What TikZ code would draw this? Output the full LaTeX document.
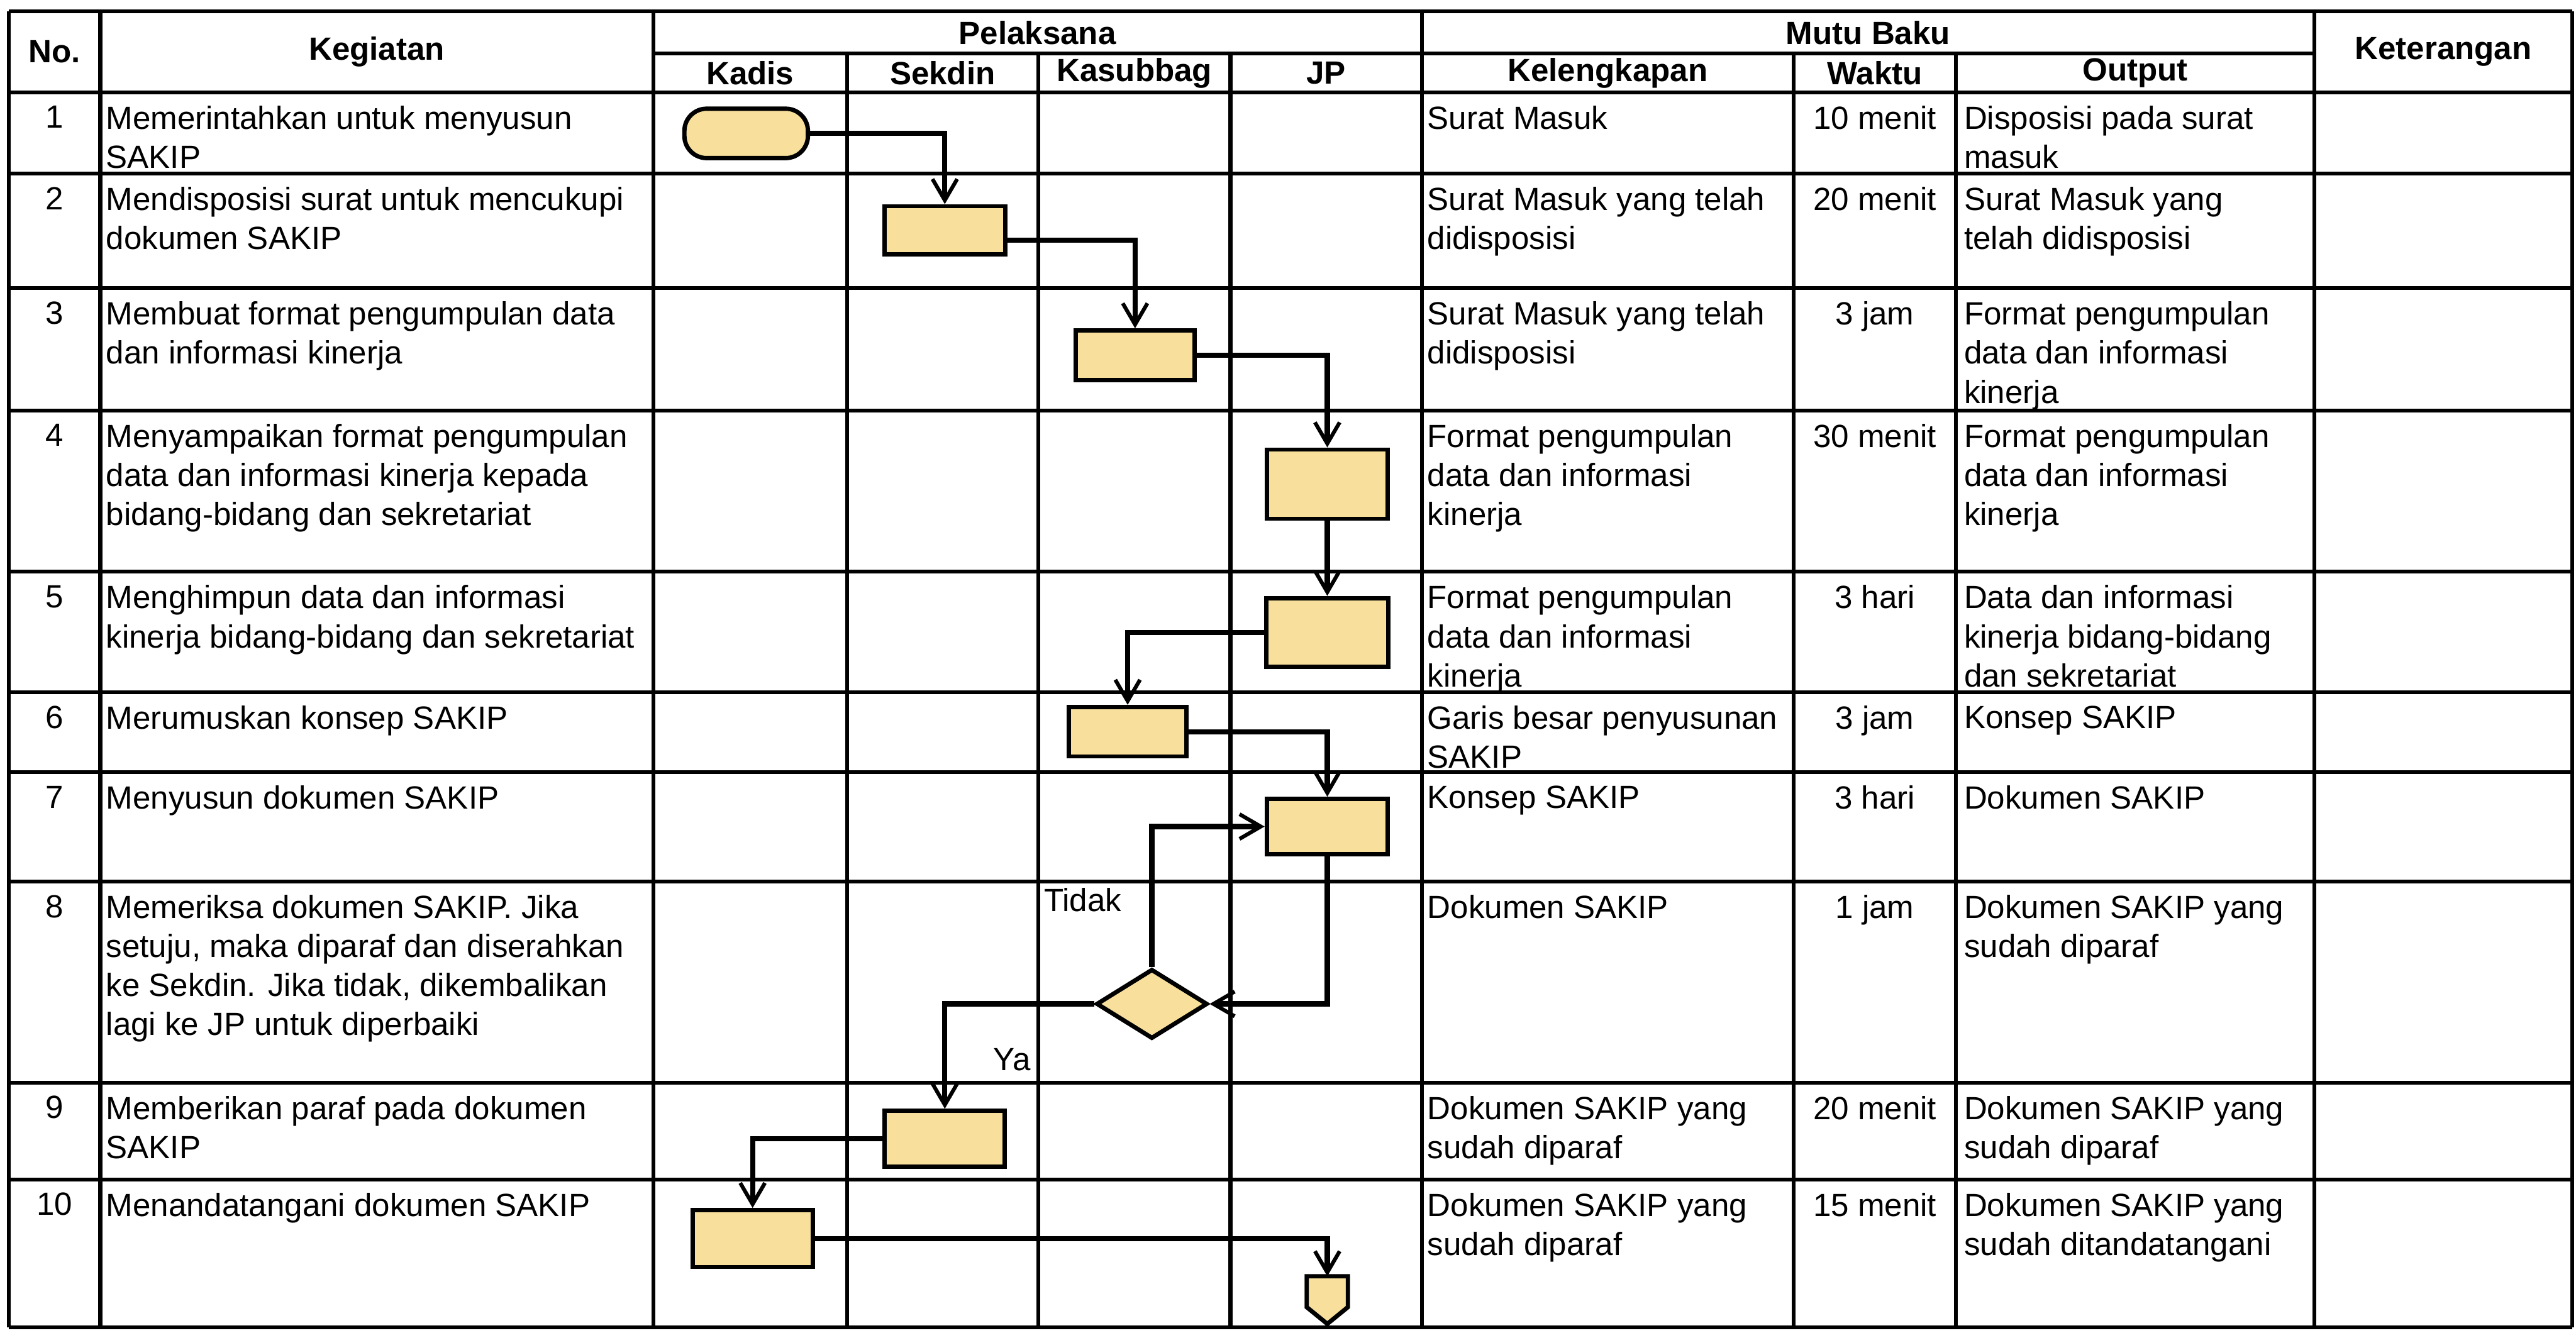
\documentclass[tikz,border=0pt]{standalone}
\usepackage{fontspec}
\setmainfont{Liberation Sans}
\usepackage{xcolor}
\usepackage{tikz}
\usetikzlibrary{arrows.meta,positioning,shapes.geometric}
\definecolor{boxfill}{HTML}{F8E09C}
\newcommand{\cellsize}{\fontsize{18.5}{22.5}\selectfont}

\begin{document}
\begin{tikzpicture}[
  grid/.style={line width=2.2pt},
  hdr/.style={font=\cellsize\bfseries, inner sep=0pt},
  num/.style={anchor=north, inner sep=0pt, font=\cellsize},
  txt/.style={anchor=north west, align=left, inner sep=0pt, font=\cellsize},
  lbl/.style={anchor=west, inner sep=0pt, font=\cellsize},
  proc/.style={draw, fill=boxfill, line width=2.5pt, inner sep=0pt},
  term/.style={proc, rounded corners=0.45cm},
  dec/.style={proc, diamond, minimum width=2.25cm, minimum height=1.41cm},
  offpage/.style={draw, fill=boxfill, line width=2.5pt},
  flow/.style={line width=3pt, -{Straight Barb[length=4.3mm, width=5mm, line width=2.2pt]}}]
  \useasboundingbox (0,0) rectangle (52.13,-26.97);

  % Table frame
  \draw[grid] (0.18,-0.23) -- (52.05,-0.23);
  \draw[grid] (13.22,-1.08) -- (46.84,-1.08);
  \foreach \y in {1.87,3.51,5.83,8.31,11.57,14.01,15.63,17.84,21.91,23.87,26.87} {
    \draw[grid] (0.18,-\y) -- (52.05,-\y);
  }
  \foreach \x in {0.18,2.03,13.22,28.77,46.84,52.05} {
    \draw[grid] (\x,-0.23) -- (\x,-26.87);
  }
  \foreach \x in {17.14,21.01,24.90,36.30,39.58} {
    \draw[grid] (\x,-1.08) -- (\x,-26.87);
  }

  % Header
  \node[hdr] (hno) at (1.105,-1.05) {No.};
  \node[hdr] (hkeg) at (7.625,-1.05) {Kegiatan};
  \node[hdr] (hpel) at (20.995,-0.66) {Pelaksana};
  \node[hdr] (hmutu) at (37.805,-0.66) {Mutu Baku};
  \node[hdr] (hket) at (49.445,-1.05) {Keterangan};
  \foreach \lbl/\x in {Kadis/15.18,Sekdin/19.075,Kasubbag/22.955,JP/26.835,
                       Kelengkapan/32.535,Waktu/37.94,Output/43.21} {
    \node[hdr] (h\lbl) at (\x,-1.48) {\lbl};
  }

  % Numbers and Waktu
  \foreach \n/\y in {1/1.87,2/3.51,3/5.83,4/8.31,5/11.57,6/14.01,7/15.63,8/17.84,9/21.91,10/23.87} {
    \node[num] (n\n) at (1.105,{-\y-0.27}) {\n};
  }
  \foreach \n/\y/\t in {1/1.87/10 menit,2/3.51/20 menit,3/5.83/3 jam,4/8.31/30 menit,
                        5/11.57/3 hari,6/14.01/3 jam,7/15.63/3 hari,8/17.84/1 jam,
                        9/21.91/20 menit,10/23.87/15 menit} {
    \node[num] (w\n) at (37.94,{-\y-0.27}) {\t};
  }

  % Row 1
  \node[txt] (k1) at (2.14,-2.14) {Memerintahkan untuk menyusun\\SAKIP};
  \node[txt] (l1) at (28.88,-2.14) {Surat Masuk};
  \node[txt] (o1) at (39.74,-2.14) {Disposisi pada surat\\masuk};
  % Row 2
  \node[txt] (k2) at (2.14,-3.78) {Mendisposisi surat untuk mencukupi\\dokumen SAKIP};
  \node[txt] (l2) at (28.88,-3.78) {Surat Masuk yang telah\\didisposisi};
  \node[txt] (o2) at (39.74,-3.78) {Surat Masuk yang\\telah didisposisi};
  % Row 3
  \node[txt] (k3) at (2.14,-6.10) {Membuat format pengumpulan data\\dan informasi kinerja};
  \node[txt] (l3) at (28.88,-6.10) {Surat Masuk yang telah\\didisposisi};
  \node[txt] (o3) at (39.74,-6.10) {Format pengumpulan\\data dan informasi\\kinerja};
  % Row 4
  \node[txt] (k4) at (2.14,-8.58) {Menyampaikan format pengumpulan\\data dan informasi kinerja kepada\\bidang-bidang dan sekretariat};
  \node[txt] (l4) at (28.88,-8.58) {Format pengumpulan\\data dan informasi\\kinerja};
  \node[txt] (o4) at (39.74,-8.58) {Format pengumpulan\\data dan informasi\\kinerja};
  % Row 5
  \node[txt] (k5) at (2.14,-11.84) {Menghimpun data dan informasi\\kinerja bidang-bidang dan sekretariat};
  \node[txt] (l5) at (28.88,-11.84) {Format pengumpulan\\data dan informasi\\kinerja};
  \node[txt] (o5) at (39.74,-11.84) {Data dan informasi\\kinerja bidang-bidang\\dan sekretariat};
  % Row 6
  \node[txt] (k6) at (2.14,-14.28) {Merumuskan konsep SAKIP};
  \node[txt] (l6) at (28.88,-14.28) {Garis besar penyusunan\\SAKIP};
  \node[txt] (o6) at (39.74,-14.28) {Konsep SAKIP};
  % Row 7
  \node[txt] (k7) at (2.14,-15.90) {Menyusun dokumen SAKIP};
  \node[txt] (l7) at (28.88,-15.90) {Konsep SAKIP};
  \node[txt] (o7) at (39.74,-15.90) {Dokumen SAKIP};
  % Row 8
  \node[txt] (k8) at (2.14,-18.11) {Memeriksa dokumen SAKIP. Jika\\setuju, maka diparaf dan diserahkan\\ke Sekdin. Jika tidak, dikembalikan\\lagi ke JP untuk diperbaiki};
  \node[txt] (l8) at (28.88,-18.11) {Dokumen SAKIP};
  \node[txt] (o8) at (39.74,-18.11) {Dokumen SAKIP yang\\sudah diparaf};
  % Row 9
  \node[txt] (k9) at (2.14,-22.18) {Memberikan paraf pada dokumen\\SAKIP};
  \node[txt] (l9) at (28.88,-22.18) {Dokumen SAKIP yang\\sudah diparaf};
  \node[txt] (o9) at (39.74,-22.18) {Dokumen SAKIP yang\\sudah diparaf};
  % Row 10
  \node[txt] (k10) at (2.14,-24.14) {Menandatangani dokumen SAKIP};
  \node[txt] (l10) at (28.88,-24.14) {Dokumen SAKIP yang\\sudah diparaf};
  \node[txt] (o10) at (39.74,-24.14) {Dokumen SAKIP yang\\sudah ditandatangani};

  % Flow symbols
  \node[term, minimum width=2.5cm, minimum height=1cm] (t1) at (15.10,-2.70) {};
  \node[proc, minimum width=2.44cm, minimum height=0.97cm] (b2) at (19.12,-4.66) {};
  \node[proc, minimum width=2.40cm, minimum height=1cm] (b3) at (22.97,-7.19) {};
  \node[proc, minimum width=2.45cm, minimum height=1.40cm] (b4) at (26.86,-9.80) {};
  \node[proc, minimum width=2.46cm, minimum height=1.39cm] (b5) at (26.86,-12.80) {};
  \node[proc, minimum width=2.37cm, minimum height=1cm] (b6) at (22.82,-14.81) {};
  \node[proc, minimum width=2.45cm, minimum height=1.12cm] (b7) at (26.86,-16.73) {};
  \node[dec] (d8) at (23.31,-20.32) {};
  \node[proc, minimum width=2.43cm, minimum height=1.13cm] (b9) at (19.12,-23.05) {};
  \node[proc, minimum width=2.43cm, minimum height=1.15cm] (b10) at (15.23,-25.07) {};
  % off-page connector
  \node[inner sep=0pt, minimum width=0.82cm, minimum height=0.95cm] (off) at (26.86,-26.315) {};
  \draw[offpage] (off.north west) -- (off.north east) -- ([yshift=0.34cm]off.south east)
    -- (off.south) -- ([yshift=0.34cm]off.south west) -- cycle;

  % Decision labels
  \node[lbl] (tidak) at (21.12,-18.22) {Tidak};
  \node[lbl] (ya) at (20.10,-21.45) {Ya};

  % Connectors
  \draw[flow] (t1.east) -| (b2.north);
  \draw[flow] ([yshift=-0.2cm]b2.east) -| (b3.north);
  \draw[flow] (b3.east) -| (b4.north);
  \draw[flow] (b4.south) -- (b5.north);
  \draw[flow] (b5.west) -| (b6.north);
  \draw[flow] (b6.east) -| (b7.north);
  \draw[flow] (b7.south) |- (d8.east);
  \draw[flow] (d8.north) |- (b7.west);
  \draw[flow] (d8.west) -| (b9.north);
  \draw[flow] (b9.west) -| (b10.north);
  \draw[flow] (b10.east) -| (off.north);
\end{tikzpicture}
\end{document}
